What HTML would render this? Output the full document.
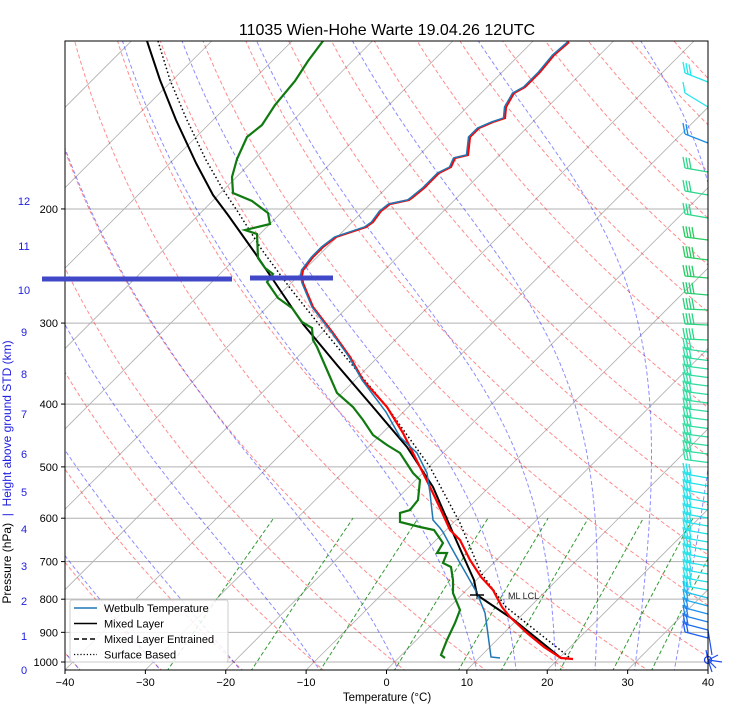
<!DOCTYPE html>
<html><head><meta charset="utf-8"><style>
html,body{margin:0;padding:0;background:#fff;overflow:hidden}
svg{display:block;font-family:"Liberation Sans","DejaVu Sans",sans-serif}
</style></head><body>
<svg id="s" width="740" height="714" viewBox="0 0 740 714" xmlns="http://www.w3.org/2000/svg">
<defs><clipPath id="c"><rect x="65" y="41" width="643" height="629"/></clipPath></defs>
<rect width="740" height="714" fill="#fff"/>
<g id="bg" clip-path="url(#c)"></g>
<g id="prof" clip-path="url(#c)"></g>
<g id="barbs"></g>
<rect x="65" y="41" width="643" height="629" fill="none" stroke="#000" stroke-width="1"/>
<text x="387" y="35" font-size="16" text-anchor="middle">11035 Wien-Hohe Warte 19.04.26 12UTC</text>
<g id="ax" font-size="11"></g>
<text x="387" y="701" font-size="11.5" text-anchor="middle">Temperature (°C)</text>
<text transform="translate(11,472) rotate(-90)" font-size="12" text-anchor="middle" xml:space="preserve"><tspan fill="#000">Pressure (hPa)  </tspan><tspan fill="#2020e0">|  Height above ground STD (km)</tspan></text>
<g id="bar"></g>
<g id="leg">
<rect x="70" y="600" width="158" height="62" fill="#fff" fill-opacity="0.85" stroke="#ccc" rx="2"/>
<line x1="74" y1="608" x2="97" y2="608" stroke="#1f77b4" stroke-width="1.5"/>
<line x1="74" y1="623.5" x2="97" y2="623.5" stroke="#000" stroke-width="1.5"/>
<line x1="74" y1="639" x2="97" y2="639" stroke="#000" stroke-width="1.5" stroke-dasharray="5,3"/>
<line x1="74" y1="654.5" x2="97" y2="654.5" stroke="#000" stroke-width="1.2" stroke-dasharray="1.2,2"/>
<text x="104" y="612" font-size="11">Wetbulb Temperature</text>
<text x="104" y="627.5" font-size="11">Mixed Layer</text>
<text x="104" y="643" font-size="11">Mixed Layer Entrained</text>
<text x="104" y="658.5" font-size="11">Surface Based</text>
</g>
</svg>
<script>
var NS="http://www.w3.org/2000/svg";
function Y(p){return 662+281.5*Math.log(p/1000);}
function X(T,p){return 65+(T+40)*8.0375+(670-Y(p));}
function el(parent,tag,attrs){var e=document.createElementNS(NS,tag);for(var k in attrs)e.setAttribute(k,attrs[k]);parent.appendChild(e);return e;}
function pts(a){return a.map(function(q){return q[0].toFixed(1)+","+q[1].toFixed(1);}).join(" ");}
var bg=document.getElementById("bg");
[1000,900,800,700,600,500,400,300,200].forEach(function(p){el(bg,"line",{x1:65,x2:708,y1:Y(p),y2:Y(p),stroke:"#b0b0b0","stroke-width":1});});
for(var T=-160;T<=40;T+=10){var xb=65+(T+40)*8.0375;el(bg,"line",{x1:xb,y1:670,x2:xb+629,y2:41,stroke:"#b0b0b0","stroke-width":0.8});}
for(var th=-40;th<=200;th+=10){var a=[];for(var p=1035;p>=95;p-=10){a.push([X((th+273.15)*Math.pow(p/1000,0.2857)-273.15,p),Y(p)]);}
el(bg,"polyline",{points:pts(a),fill:"none",stroke:"#ff0000","stroke-opacity":0.45,"stroke-width":1,"stroke-dasharray":"4,2.5"});}
var Rd=287.04,Cp=1005.7,Lv=2.501e6,eps=0.622;
function dTdp(T,p){var Tc=T-273.15;var es=6.112*Math.exp(17.67*Tc/(Tc+243.5));var rs=eps*es/(p-es);return (Rd*T+Lv*rs)/(p*(Cp+Lv*Lv*rs*eps/(Rd*T*T)));}
[-40,-30,-20,-10,0,10,15,20,25,30,35,40].forEach(function(t0){
 var up=[],T=t0+273.15,p=1000,h=-2;
 while(p>=100){up.push([X(T-273.15,p),Y(p)]);var k1=dTdp(T,p),k2=dTdp(T+h/2*k1,p+h/2),k3=dTdp(T+h/2*k2,p+h/2),k4=dTdp(T+h*k3,p+h);T+=h/6*(k1+2*k2+2*k3+k4);p+=h;}
 var dn=[];T=t0+273.15;p=1000;h=2;while(p<=1040){dn.unshift([X(T-273.15,p),Y(p)]);T+=h*dTdp(T,p);p+=h;}
 el(bg,"polyline",{points:pts(dn.concat(up)),fill:"none",stroke:"#0000ff","stroke-opacity":0.45,"stroke-width":1,"stroke-dasharray":"4,2.5"});});
[0.0004,0.001,0.002,0.004,0.007,0.01,0.016,0.024,0.032].forEach(function(w){var a=[];for(var p=1035;p>=600;p-=5){var e=w*p/(eps+w);var l=Math.log(e/6.112);a.push([X(243.5*l/(17.67-l),p),Y(p)]);}
el(bg,"polyline",{points:pts(a),fill:"none",stroke:"#008000","stroke-opacity":0.8,"stroke-width":1,"stroke-dasharray":"4,2.5"});});
var pr=document.getElementById("prof");
var redTop=[[569,42],[554,55],[540,72],[525,87],[514,93],[506,107],[505,118],[493,122],[479,128],[470,137],[468,155],[455,158],[451,167],[439,173],[430,182],[424,188],[413,197],[409,200],[390,204],[381,211],[373,222],[366,227],[336,237],[323,247],[313,257],[303,270],[302,276]];
var red=redTop.concat([[303,283],[313,307],[333,333],[350,357],[363,380],[387,407],[403,433],[420,467],[430,487],[440,508],[450,530],[460,540],[470,560],[481,577],[493,590],[502,607],[510,617],[527,633],[544,647],[561,658],[573,659]]);
var wb=redTop.map(function(q){return [q[0]-1.5,q[1]];}).concat([[302,283],[312,307],[332,333],[349,357],[362,380],[386,412],[400,437],[417,453],[427,473],[430,493],[433,520],[440,528],[443,532],[451,547],[460,563],[468,577],[477,593],[485,613],[487,627],[491,657],[500,658]]);
var grn=[[323,41],[308,61],[295,81],[275,105],[262,125],[247,137],[237,159],[232,177],[233,193],[252,201],[268,213],[270,224],[245,230],[257,234],[258,258],[265,268],[273,274],[267,282],[278,298],[292,308],[302,322],[312,328],[313,340],[317,347],[327,370],[337,393],[353,407],[363,420],[373,435],[387,445],[400,453],[413,473],[420,480],[418,500],[410,510],[400,513],[400,522],[420,527],[434,530],[443,543],[437,553],[447,553],[443,563],[451,567],[453,580],[453,593],[460,610],[455,623],[447,640],[441,655],[445,658]];
var ml=[[147,41],[160,80],[176,120],[196,163],[213,195],[228,215],[255,253],[280,290],[303,324],[337,365],[373,407],[407,447],[433,487],[453,533],[465,560],[474,580],[477,595],[514,620],[561,658]];
var sb=[[158,41],[170,80],[186,118],[206,160],[222,188],[238,212],[262,250],[290,288],[325,332],[358,372],[387,407],[430,467],[460,523],[481,573],[506,607],[569,657]];
el(pr,"polyline",{points:pts(sb),fill:"none",stroke:"#000","stroke-width":1.5,"stroke-dasharray":"1.5,2.5"});
el(pr,"polyline",{points:pts(ml),fill:"none",stroke:"#000","stroke-width":2,"stroke-linejoin":"round"});
el(pr,"polyline",{points:pts(grn),fill:"none",stroke:"#107a10","stroke-width":2.2});
el(pr,"polyline",{points:pts(red),fill:"none",stroke:"#ff0000","stroke-width":2.2});
el(pr,"polyline",{points:pts(wb),fill:"none",stroke:"#1f77b4","stroke-width":1.5});
el(pr,"line",{x1:470,x2:484,y1:595,y2:595,stroke:"#000","stroke-width":1.5});
el(pr,"line",{x1:477,x2:477,y1:591,y2:599,stroke:"#000","stroke-width":1});
var t=el(pr,"text",{x:508,y:599,"font-size":9,fill:"#222"});t.textContent="ML LCL";
var bar=document.getElementById("bar");
el(bar,"line",{x1:42,x2:232,y1:279,y2:279,stroke:"#4048c8","stroke-width":5});
el(bar,"line",{x1:250,x2:333,y1:278,y2:278,stroke:"#4048c8","stroke-width":5});
var ax=document.getElementById("ax");
[1000,900,800,700,600,500,400,300,200].forEach(function(p){el(ax,"line",{x1:61,x2:65,y1:Y(p),y2:Y(p),stroke:"#000"});var tt=el(ax,"text",{x:58,y:Y(p)+4,"text-anchor":"end"});tt.textContent=p;});
for(var T=-40;T<=40;T+=10){var x=65+(T+40)*8.0375;el(ax,"line",{x1:x,x2:x,y1:670,y2:674,stroke:"#000"});var tt=el(ax,"text",{x:x,y:686,"text-anchor":"middle"});tt.textContent=(T<0?"\u2212"+(-T):T);}
var hy=[670,636,601,566,529,492,454,414,374,332,290,246,201];
hy.forEach(function(y,i){var tt=el(ax,"text",{x:24,y:y+4,"text-anchor":"middle",fill:"#2020e0"});tt.textContent=i;});
var bb=document.getElementById("barbs");
var ys=[[82,"#22e6ee",9,3],[107,"#22e6ee",14,1],[143,"#1a8ce6",9,2],[172,"#2ed68a",4,3],[195,"#2ed68a",4,3],[218,"#2ed68a",4,3],[240,"#28cc60",3,4],[260,"#28cc60",3,4],[278,"#28cc66",2,4],[295,"#28cc70",2,4],[310,"#28d078",1,4],[325,"#2ad480",1,4],[340,"#2ad888",1,4]];
for(var y=352;y<=470;y+=8.5)ys.push([y,"#30dca0",3,3]);
for(var y=478;y<=590;y+=8)ys.push([y,"#22e0e8",4,3]);
[[598,"#1ec0f0"],[606,"#1aa8f0"],[614,"#1a90f0"],[622,"#1a80f0"],[630,"#1a6cf0"],[638,"#1a60f0"]].forEach(function(q){ys.push([q[0],q[1],6,2]);});
ys.forEach(function(b){var y=b[0],c=b[1],d=b[2],n=b[3];var x2=685,y2=y-d;
 el(bb,"line",{x1:708,y1:y,x2:x2,y2:y2,stroke:c,"stroke-width":1.3});
 for(var i=0;i<n;i++){var tx=x2+i*3,ty=y2+d*i*3/23;el(bb,"line",{x1:tx,y1:ty,x2:tx-2,y2:ty-11,stroke:c,"stroke-width":1.3});}});
el(bb,"circle",{cx:708,cy:660,r:3.5,fill:"none",stroke:"#2040f0","stroke-width":1.3});
[[718,655],[722,662],[716,668],[712,672],[706,650]].forEach(function(q){el(bb,"line",{x1:708,y1:660,x2:q[0],y2:q[1],stroke:"#2050f0","stroke-width":1.2});});
el(bb,"line",{x1:708,y1:630,x2:712,y2:655,stroke:"#2050f0","stroke-width":1.2});
</script>
</body></html>
